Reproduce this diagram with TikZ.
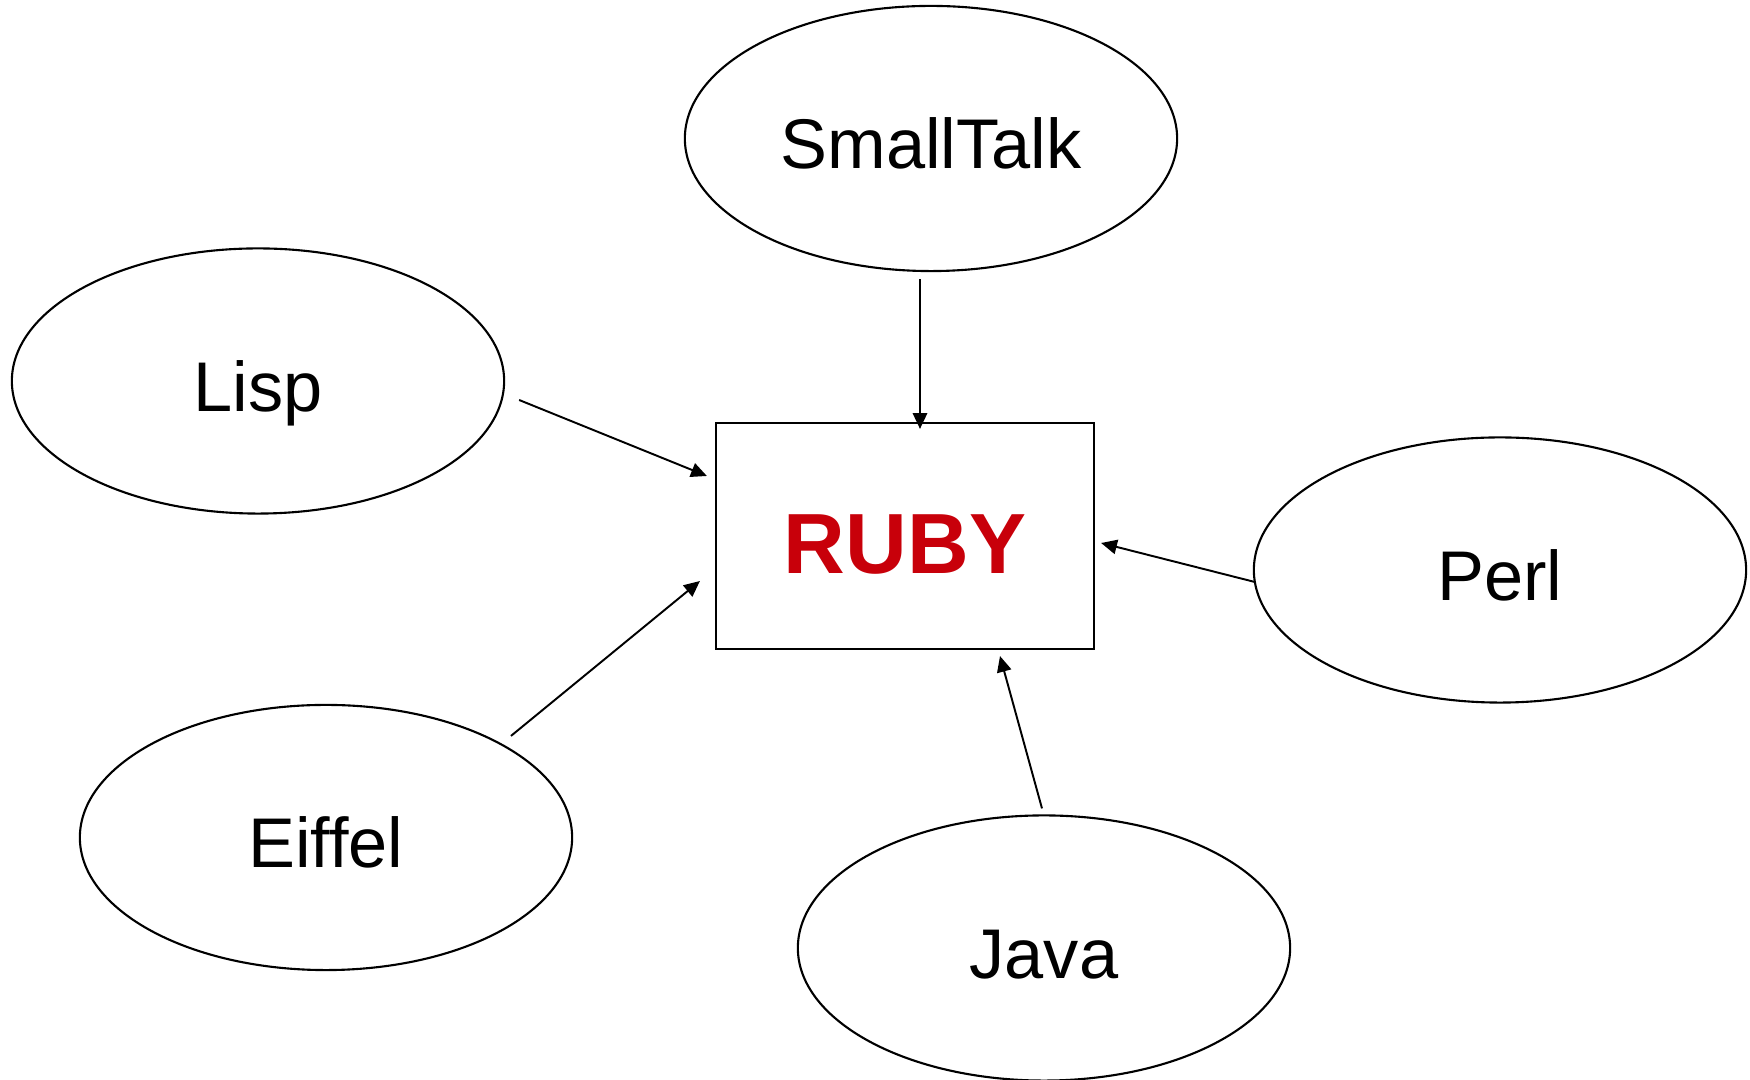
\documentclass[tikz,border=0pt]{standalone}
\usepackage{fontspec}
\setmainfont[Ligatures=NoCommon]{Liberation Sans}
\usetikzlibrary{arrows.meta,shapes.geometric}
\definecolor{rubyred}{RGB}{200,0,10}

\begin{document}
\begin{tikzpicture}[x=0.01cm,y=-0.01cm,
  lang/.style={draw,ellipse,line width=0.6pt,minimum width=4.92cm,minimum height=2.65cm,inner sep=0pt,outer sep=0pt,font=\fontsize{20}{24}\selectfont,text height=17.2pt,text depth=0pt},
  core/.style={draw,rectangle,line width=0.6pt,minimum width=3.78cm,minimum height=2.26cm,inner sep=0pt,outer sep=0pt,text=rubyred,font=\bfseries\fontsize{24.3}{29}\selectfont,text height=21.4pt,text depth=0pt},
  feed/.style={-{Triangle[length=4.5pt,width=4.1pt]},line width=0.55pt}]

\useasboundingbox (0,0) rectangle (1750,1080);

%Marking the languages
\node[core] (ruby) at (905,536) {RUBY};
\node[lang] (smalltalk) at (931,138.5) {SmallTalk};
\node[lang] (lisp) at (258,381) {Lisp};
\node[lang] (perl) at (1500,570) {Perl};
\node[lang] (eiffel) at (326,837.5) {Eiffel};
\node[lang] (java) at (1044,948) {Java};

%Drawing the influences
\draw[feed] ([shift={(-11,8)}]smalltalk.south) -- ([shift={(15,6)}]ruby.north);
\draw[feed] ([shift={(15,19)}]lisp.east) -- ([shift={(-9,-60)}]ruby.west);
\draw[feed] ([shift={(1,12)}]perl.west) -- ([shift={(7,7)}]ruby.east);
\draw[feed] ([shift={(185,31)}]eiffel.north) -- ([shift={(-16,-68)}]ruby.south west);
\draw[feed] ([shift={(-2,-7)}]java.north) -- ([shift={(95,7)}]ruby.south);
\end{tikzpicture}
\end{document}
